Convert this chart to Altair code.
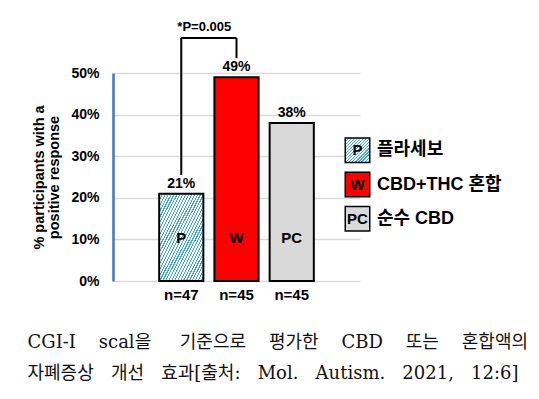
import altair as alt
import pandas as pd

# ---- data ----
groups = ["P", "W", "PC"]
values = [21, 49, 38]
value_labels = ["21%", "49%", "38%"]
n_labels = ["n=47", "n=45", "n=45"]
inside_labels = ["P", "W", "PC"]
legend_codes = ["P", "W", "PC"]
legend_labels = ["플라세보", "CBD+THC 혼합", "순수 CBD"]
y_ticks = [0, 10, 20, 30, 40, 50]
p_text = ["*P=0.005"]
bracket_top = 58.4
bracket_left_bottom = 25.5
bracket_right_bottom = 53.6
NB = "\u00a0"
caption = [
    "CGI-I" + NB * 4 + "scal을" + NB * 5 + "기준으로" + NB * 4 + "평가한" + NB * 4 + "CBD" + NB * 4 + "또는" + NB * 4 + "혼합액의",
    "자폐증상" + NB * 3 + "개선" + NB * 3 + "효과[출처:" + NB * 3 + "Mol." + NB * 3 + "Autism." + NB * 3 + "2021," + NB * 3 + "12:6]",
]

df = pd.DataFrame({"group": groups, "value": values, "label": value_labels,
                   "n": n_labels, "inside": inside_labels})
bracket_df = pd.DataFrame({
    "x": ["P", "P", "W"],
    "x2": ["P", "W", "W"],
    "value": [bracket_left_bottom, bracket_top, bracket_right_bottom],
    "value2": [bracket_top, bracket_top, bracket_top],
})
ptext_df = pd.DataFrame({"group": ["P"], "value": [bracket_top], "text": p_text})
legend_df = pd.DataFrame({"code": legend_codes, "label": legend_labels})

SANS = "Liberation Sans, Noto Sans CJK KR"
BLUE = "#3aa7d6"

def stripes(n):
    stops = []
    for i in range(n):
        a = i / n
        b = (i + 0.38) / n
        c = (i + 1) / n
        stops += [
            {"offset": a, "color": BLUE},
            {"offset": b, "color": BLUE},
            {"offset": b, "color": "#ffffff"},
            {"offset": c, "color": "#ffffff"},
        ]
    return {"gradient": "linear", "x1": 0, "y1": 0, "x2": 1, "y2": 1, "stops": stops}

x_scale = alt.Scale(domain=groups, paddingInner=0.2, paddingOuter=0.836)
y_scale = alt.Scale(domain=[0, 50], nice=False, zero=True)

y_axis = alt.Axis(
    values=y_ticks, labelExpr="datum.value + '%'",
    title=["% participants with a", "positive response"],
    titleFont="Liberation Sans", titleFontSize=14.5, titleFontWeight="bold",
    titleColor="black", titleLineHeight=15.5, titlePadding=9,
    labelFont="Liberation Sans", labelFontSize=14, labelFontWeight="bold",
    labelColor="black", labelPadding=14, ticks=False, tickSize=0,
    domainColor="#4472c4", domainWidth=2.5, gridColor="#d9d9d9", gridWidth=1.5,
)

X = alt.X("group:N", scale=x_scale, axis=None)
Y = alt.Y("value:Q", scale=y_scale, axis=y_axis)
base = alt.Chart(df)

bar_p = base.transform_filter(alt.datum.group == "P").mark_bar(
    fill=stripes(30), stroke="black", strokeWidth=2
).encode(x=X, y=Y)

bar_solid = base.transform_filter(alt.datum.group != "P").mark_bar(
    stroke="black", strokeWidth=2
).encode(
    x=X, y=Y,
    fill=alt.Fill("group:N", scale=alt.Scale(domain=["W", "PC"], range=["#ff0000", "#d9d9d9"]), legend=None),
)

val_text = base.mark_text(font="Liberation Sans", fontSize=14, fontWeight="bold",
                          baseline="bottom", dy=-3, color="black").encode(
    x=X, y=Y, text="label:N")

inside_text = base.mark_text(font="Liberation Sans", fontSize=15, fontWeight="bold",
                             baseline="middle", color="black").encode(
    x=X, y=alt.datum(10.3, type="quantitative", scale=y_scale), text="inside:N")

n_text = base.mark_text(font="Liberation Sans", fontSize=15, fontWeight="bold",
                        baseline="top", dy=7, color="black").encode(
    x=X, y=alt.datum(0, type="quantitative", scale=y_scale), text="n:N")

bracket = alt.Chart(bracket_df).mark_rule(color="black", strokeWidth=2).encode(
    x=alt.X("x:N", scale=x_scale, axis=None), x2="x2:N",
    y=Y, y2="value2:Q")

ptext = alt.Chart(ptext_df).mark_text(font="Liberation Sans", fontSize=13, fontWeight="bold",
                                      baseline="bottom", dy=-4, dx=23, color="black").encode(
    x=X, y=Y, text="text:N")

main = alt.layer(bar_p, bar_solid, val_text, inside_text, n_text, bracket, ptext)

LY = alt.Y("label:N", scale=alt.Scale(type="point", domain=legend_labels, range=[60, 163]), axis=None)
lbase = alt.Chart(legend_df)
leg_p = lbase.transform_filter(alt.datum.code == "P").mark_square(
    size=600, fill=stripes(16), stroke="black", strokeWidth=1.5, opacity=1
).encode(x=alt.value(244.5), y=LY)
leg_solid = lbase.transform_filter(alt.datum.code != "P").mark_square(
    size=600, stroke="black", strokeWidth=1.5, opacity=1, filled=True
).encode(x=alt.value(244.5), y=LY,
         fill=alt.Fill("code:N", scale=alt.Scale(domain=["W", "PC"], range=["#ff0000", "#d9d9d9"]), legend=None))
leg_code = lbase.mark_text(font="Liberation Sans", fontSize=15, fontWeight="bold",
                           baseline="middle", align="center", color="black").encode(
    x=alt.value(244.5), y=LY, text="code:N")
leg_label = lbase.mark_text(font=SANS, fontSize=18, fontWeight="bold",
                            baseline="middle", align="left", color="black").encode(
    x=alt.value(264), y=LY, text="label:N")
legend = alt.layer(leg_p, leg_solid, leg_code, leg_label)

chart = alt.layer(main, legend).resolve_scale(y="independent", x="independent").properties(
    width=247, height=208,
    autosize=alt.AutoSizeParams(type="none"),
    padding={"left": 105, "top": 65, "right": 171, "bottom": 110},
    title=alt.TitleParams(
        text=caption, orient="bottom", anchor="start", frame="bounds",
        font="DejaVu Serif, Noto Sans CJK KR", fontSize=18, fontWeight="normal",
        lineHeight=31, color="#111111", offset=31, dx=-4,
    ),
).configure_view(stroke=None)

chart.save("out.html", embed_options={"renderer": "svg", "actions": False})
